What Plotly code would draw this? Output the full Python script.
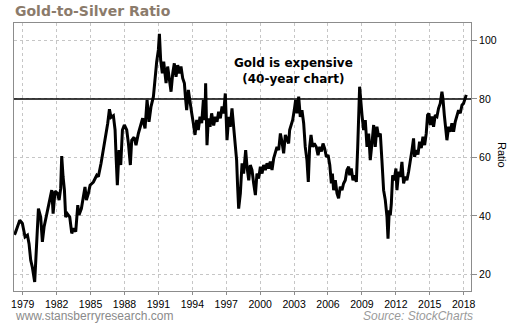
import plotly.graph_objects as go

# ---- data (decimal year, gold/silver ratio) ----
years = [
    1978.25, 1978.33, 1978.53, 1978.74, 1978.97, 1979.21, 1979.42, 1979.56, 1979.71, 1979.85,
    1980.06, 1980.21, 1980.39, 1980.59, 1980.74, 1980.89, 1981.04, 1981.24, 1981.42, 1981.57,
    1981.69, 1981.86, 1982.07, 1982.22, 1982.36, 1982.45, 1982.57, 1982.69, 1982.80, 1982.95,
    1983.16, 1983.34, 1983.48, 1983.69, 1983.87, 1983.98, 1984.19, 1984.34, 1984.51, 1984.63,
    1984.81,
    1984.96, 1985.25, 1985.55, 1985.69, 1985.93, 1986.14, 1986.34, 1986.52, 1986.67, 1986.81,
    1987.02, 1987.17, 1987.26, 1987.37, 1987.52, 1987.67, 1987.82, 1987.99, 1988.20, 1988.35,
    1988.52, 1988.64, 1988.85, 1989.02, 1989.23, 1989.47, 1989.61, 1989.82, 1990.00, 1990.17,
    1990.35, 1990.56, 1990.70, 1990.85, 1991.00, 1991.09, 1991.20, 1991.35, 1991.47,
    1991.68, 1991.82, 1991.97, 1992.12, 1992.27, 1992.41, 1992.56, 1992.71, 1992.85, 1993.00,
    1993.15, 1993.30, 1993.39, 1993.50, 1993.65, 1993.80, 1993.95, 1994.09, 1994.24, 1994.39,
    1994.53, 1994.68, 1994.83, 1994.98, 1995.12, 1995.18, 1995.30, 1995.42, 1995.57, 1995.71,
    1995.89, 1996.04, 1996.19, 1996.33, 1996.48, 1996.63, 1996.77, 1996.92, 1997.07, 1997.22,
    1997.36, 1997.51, 1997.66, 1997.81, 1997.92, 1998.01, 1998.10,
    1998.25, 1998.40, 1998.54, 1998.72, 1998.84, 1998.99, 1999.13, 1999.28, 1999.43, 1999.58,
    1999.72, 1999.87, 2000.02, 2000.17, 2000.31, 2000.46, 2000.61, 2000.75, 2000.90, 2001.05,
    2001.20, 2001.34, 2001.49, 2001.64, 2001.79, 2001.93, 2002.08, 2002.23, 2002.38, 2002.52,
    2002.61, 2002.73, 2002.88, 2003.02, 2003.14, 2003.26, 2003.41, 2003.55, 2003.70, 2003.85,
    2003.99, 2004.14, 2004.26, 2004.38, 2004.50, 2004.64, 2004.79,
    2004.97, 2005.12, 2005.27, 2005.42, 2005.56, 2005.71, 2005.86, 2006.01, 2006.16, 2006.30,
    2006.39, 2006.50, 2006.65, 2006.80, 2006.94, 2007.09, 2007.24, 2007.38, 2007.53, 2007.68,
    2007.83, 2007.92, 2008.06, 2008.21, 2008.36, 2008.51, 2008.63, 2008.71, 2008.80,
    2009.01, 2009.15, 2009.30, 2009.45, 2009.60, 2009.74, 2009.89, 2010.04, 2010.18, 2010.33,
    2010.48, 2010.63, 2010.77, 2010.92, 2011.07, 2011.22, 2011.31, 2011.42,
    2011.51, 2011.60, 2011.72, 2011.86, 2012.01, 2012.10, 2012.25, 2012.40, 2012.54, 2012.69,
    2012.84, 2012.98, 2013.13, 2013.28, 2013.43, 2013.57, 2013.66, 2013.81, 2013.96, 2014.10,
    2014.25, 2014.40, 2014.55, 2014.69, 2014.81, 2014.93, 2015.05, 2015.20, 2015.34, 2015.49,
    2015.64, 2015.78, 2015.93, 2016.08, 2016.17, 2016.29, 2016.40, 2016.52, 2016.67, 2016.82,
    2016.96, 2017.11, 2017.26, 2017.40, 2017.55, 2017.70, 2017.85, 2017.99, 2018.14, 2018.23,
]

ratio = [
    33.6, 34.0, 36.2, 38.5, 37.4, 32.8, 33.4, 30.5, 24.8, 22.5,
    17.4, 29.4, 42.5, 39.6, 31.1, 36.2, 39.1, 43.7, 46.5, 48.8,
    40.8, 48.5, 47.7, 45.4, 49.4, 60.5, 53.4, 48.8, 39.6, 40.7,
    39.6, 34.0, 35.7, 34.6, 43.7, 40.3, 42.5, 45.4, 49.9, 45.4,
    47.7,
    50.5, 51.6, 53.9, 53.4, 58.0, 62.5, 68.2, 71.7, 76.5, 73.7,
    74.3, 69.4, 60.2, 50.5, 62.5, 57.4, 69.4, 71.1, 69.4, 64.8,
    57.4, 65.9, 66.9, 64.2, 68.2, 71.7, 73.4, 69.9, 79.7, 72.2,
    77.4, 80.8, 87.6, 92.8, 96.8, 102.3, 93.4, 88.8, 92.8,
    85.4, 91.1, 86.6, 82.5, 88.8, 92.2, 87.6, 91.6, 88.8, 91.1,
    87.1, 85.4, 80.8, 76.2, 83.1, 78.5, 75.1, 71.7, 67.7, 72.8,
    69.4, 73.9, 71.7, 79.7, 72.8, 85.4, 64.2, 73.4, 70.5, 75.1,
    70.9, 73.9, 72.2, 75.6, 73.4, 77.4, 75.1, 81.9, 65.9, 73.9,
    70.5, 76.8, 70.5, 64.8, 59.1, 49.9, 42.5,
    47.7, 58.0, 54.5, 62.5, 56.8, 52.2, 57.4, 55.7, 51.1, 47.1,
    54.5, 52.8, 56.8, 54.5, 57.4, 55.7, 58.0, 56.2, 58.6, 55.7,
    59.7, 61.4, 63.6, 62.5, 68.2, 65.4, 61.4, 67.7, 66.5, 64.8,
    69.4, 71.1, 72.8, 76.2, 79.7, 75.1, 80.8, 73.9, 76.2, 71.7,
    63.6, 59.1, 51.6, 63.6, 67.7, 63.6, 64.8,
    63.6, 60.8, 63.6, 62.0, 64.8, 63.0, 60.2, 60.8, 57.4, 51.1,
    54.5, 48.8, 52.2, 47.7, 46.0, 50.0, 48.8, 51.1, 52.2, 55.7,
    56.8, 53.9, 56.2, 52.2, 53.9, 51.6, 63.6, 77.4, 84.2,
    74.5, 69.4, 72.8, 63.6, 68.2, 59.1, 64.8, 71.1, 63.6, 70.5,
    67.1, 68.2, 59.1, 48.8, 45.4, 39.6, 32.2, 41.9,
    40.2, 44.0, 53.9, 52.2, 56.2, 48.8, 55.1, 53.4, 58.5, 51.1,
    53.4, 52.2, 55.1, 58.2, 62.5, 66.5, 60.2, 62.5, 61.0, 65.4,
    63.2, 67.1, 64.2, 68.2, 74.5, 75.1, 71.1, 74.0, 70.5, 74.5,
    74.0, 76.8, 78.5, 82.5, 80.0, 74.5, 70.5, 65.9, 70.5, 68.8,
    71.7, 68.8, 72.3, 73.9, 76.2, 75.1, 77.9, 78.5, 80.8, 81.4,
]

x_ticks = list(range(1979, 2019, 3))
x_tick_labels = [str(y) for y in x_ticks]
y_ticks = [20, 40, 60, 80, 100]
threshold = 80

title_text = "Gold-to-Silver Ratio"
note_lines = ["Gold is expensive", "(40-year chart)"]
y_title = "Ratio"
footer_left = "www.stansberryresearch.com"
footer_right = "Source: StockCharts"

# ---- figure ----
W, H = 510, 325
ML, MR, MT, MB = 14, 39, 23, 34
PW, PH = W - ML - MR, H - MT - MB


def px_x(px):
    return (px - ML) / PW


def px_y(py):
    return (H - MB - py) / PH


fig = go.Figure()
fig.add_trace(go.Scatter(
    x=years, y=ratio, mode="lines",
    line=dict(color="black", width=3),
    hoverinfo="skip",
))

fig.add_hline(y=threshold, line_color="black", line_width=1.3)

axis_common = dict(
    showgrid=True, gridcolor="#c6c6c6", griddash="dot", gridwidth=1,
    showline=True, linecolor="#8c8c8c", linewidth=1, mirror=True,
    ticks="outside", tickcolor="#8c8c8c",
    tickfont=dict(family="Liberation Sans, Arial", size=10.5, color="black"),
    zeroline=False,
)

fig.update_layout(
    width=W, height=H,
    margin=dict(l=ML, r=MR, t=MT, b=MB, pad=0),
    paper_bgcolor="white", plot_bgcolor="white",
    showlegend=False,
    xaxis=dict(range=[1978.23, 2018.65], tickvals=x_ticks, ticktext=x_tick_labels,
               ticklen=3, **axis_common),
    yaxis=dict(range=[14.3, 106], tickvals=y_ticks, side="right",
               ticklen=5, **axis_common),
)

# title
fig.add_annotation(
    text="<b>" + title_text + "</b>", xref="paper", yref="paper",
    x=px_x(13), y=px_y(11), xanchor="left", yanchor="middle", showarrow=False,
    font=dict(family="DejaVu Sans", size=14, color="#8b7b6b"),
)
# in-chart note
fig.add_annotation(
    text="<br>".join("<b>" + s + "</b>" for s in note_lines), xref="paper", yref="paper",
    x=px_x(293.5), y=px_y(71), xanchor="center", yanchor="middle", showarrow=False,
    font=dict(family="DejaVu Sans", size=12, color="black"),
)
# y-axis title (reads top to bottom)
fig.add_annotation(
    text=y_title, xref="paper", yref="paper", textangle=90,
    x=px_x(502), y=px_y(155), xanchor="center", yanchor="middle", showarrow=False,
    font=dict(family="Liberation Sans, Arial", size=11, color="black"),
)
# footers
fig.add_annotation(
    text=footer_left, xref="paper", yref="paper",
    x=px_x(13), y=px_y(316), xanchor="left", yanchor="middle", showarrow=False,
    font=dict(family="Liberation Sans, Arial", size=12, color="#8a8a8a"),
)
fig.add_annotation(
    text="<i>" + footer_right + "</i>", xref="paper", yref="paper",
    x=px_x(475), y=px_y(316), xanchor="right", yanchor="middle", showarrow=False,
    font=dict(family="Liberation Sans, Arial", size=12, color="#9a9a9a"),
)

fig.write_html("out.html")
